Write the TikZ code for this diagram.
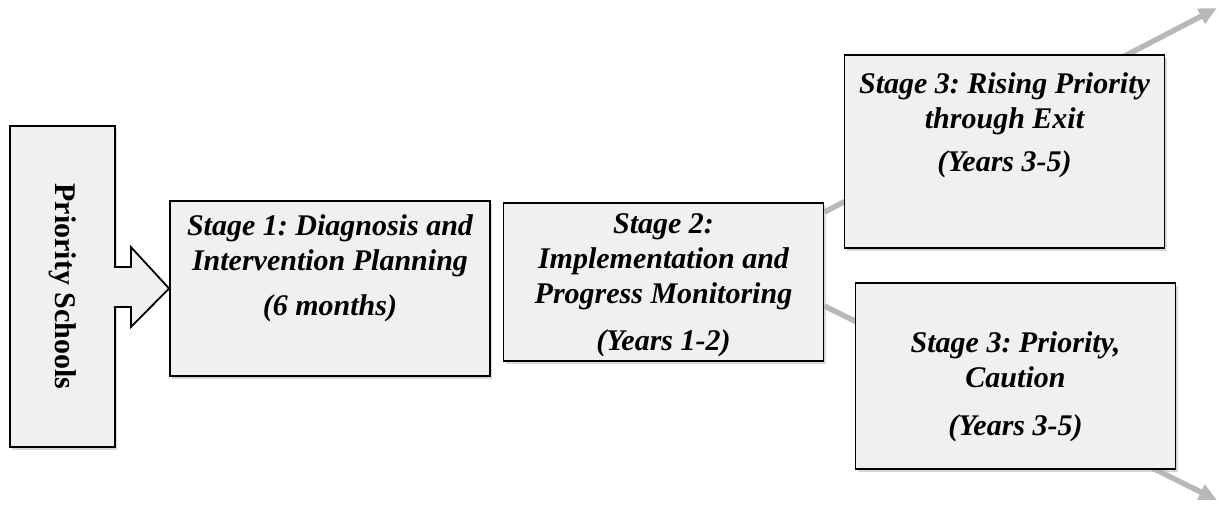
\documentclass[tikz,border=0pt]{standalone}
\usepackage{fontspec}
\setmainfont{Liberation Serif}
\usepackage{graphicx}
\usetikzlibrary{arrows.meta, shadows, calc, backgrounds}
\frenchspacing

% top-aligned text inside a stage box
\newcommand{\stagetext}[3]{\parbox[c][#1][t]{160pt}{\centering\vspace*{#2}#3}}

\begin{document}
\begin{tikzpicture}[
    x=0.5pt, y=-0.5pt,
    box/.style={rectangle, draw, line width=0.9pt, fill=black!6, inner sep=0pt,
        drop shadow={shadow xshift=1pt, shadow yshift=-1.5pt, fill=black!30}},
    stage/.style={box, minimum width=158pt, font=\fontsize{15}{17.5}\selectfont\bfseries\itshape},
    flow/.style={line width=2.7pt, draw=black!28, -{Triangle[length=9pt, width=8pt]}}
]
\useasboundingbox (0,0) rectangle (1219,505);

% Start
\node[box, minimum width=52.5pt, minimum height=160.5pt, font=\fontsize{15}{18}\selectfont\bfseries] (ps) at (62.5,286.5) {\rotatebox{-90}{Priority Schools}};

% Stages
\node[stage] (s1) at (330,288.5) {\stagetext{87.5pt}{7pt}{Stage 1: Diagnosis and\\Intervention Planning\\[5pt](6 months)}};
\node[stage] (s2) at (663.5,282) {\stagetext{79pt}{5.5pt}{Stage 2:\\Implementation and\\Progress Monitoring\\[6pt](Years 1-2)}};
\node[stage] (s3a) at (1004.5,151.5) {\stagetext{96.5pt}{9pt}{Stage 3: Rising Priority\\through Exit\\[4pt](Years 3-5)}};
\node[stage] (s3b) at (1015.5,376) {\stagetext{93pt}{24.5pt}{Stage 3: Priority,\\Caution\\[6.5pt](Years 3-5)}};

% Block arrow
\draw[line width=0.9pt, fill=black!6] ($(ps.east)+(-2,-19.5)$) -- ++(17,0) -- ++(0,-20) -- (s1.west)
    -- ($(ps.east)+(15,40.5)$) -- ++(0,-20) -- ++(-17,0);

% Flows out of stage 2
\coordinate (upend) at (1217,8);
\coordinate (downend) at (1217,500);
\begin{scope}[on background layer]
\draw[flow] ($(s2.north east)+(0,10)$) -- (upend);
\draw[flow] ($(s2.east)+(0,24)$) -- (downend);
\end{scope}

\end{tikzpicture}
\end{document}
